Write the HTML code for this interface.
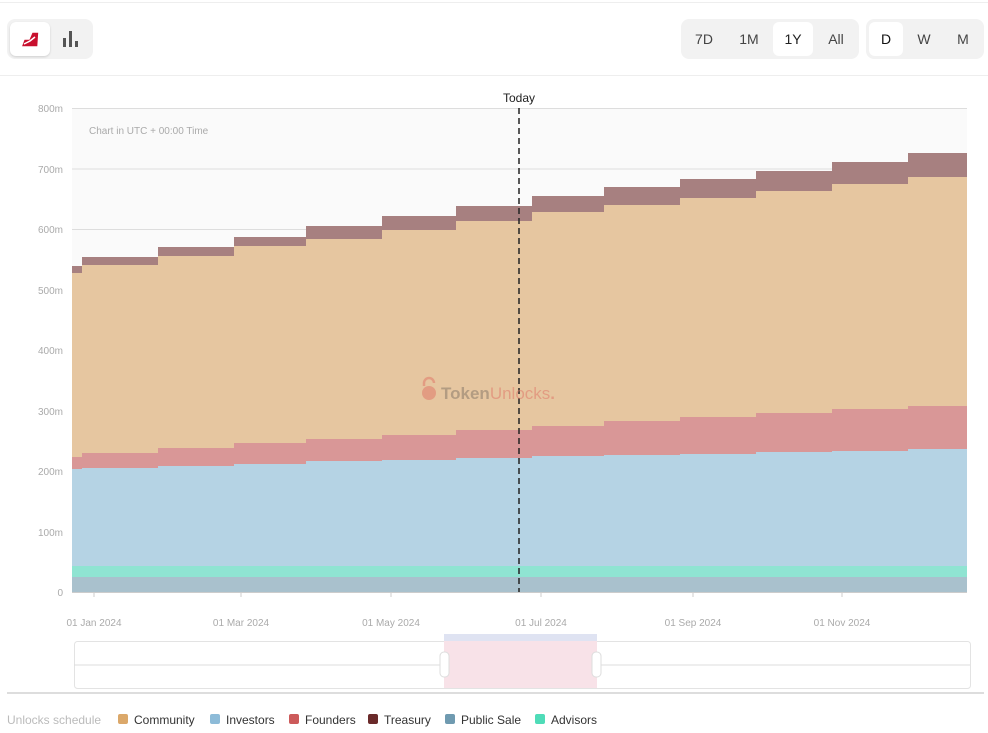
<!DOCTYPE html>
<html><head><meta charset="utf-8"><style>
body{margin:0;background:#fff;font-family:"Liberation Sans",sans-serif;}
.wrap{position:relative;width:988px;height:733px;overflow:hidden;}
.btn{position:absolute;font-size:14px;color:#444;text-align:center;line-height:36px;}
</style></head><body><div class="wrap">
<div style="position:absolute;left:0;top:2px;width:988px;height:1px;background:#eee"></div>
<div style="position:absolute;left:7px;top:19px;width:86px;height:40px;background:#f2f2f2;border-radius:8px"></div>
<div style="position:absolute;left:10px;top:22px;width:40px;height:34px;background:#fff;border-radius:6px;box-shadow:0 1px 2px rgba(0,0,0,.15)"></div>
<svg style="position:absolute;left:18px;top:29px" width="24" height="20"><path d="M3,18 L6,10 L11,10 L14,3 L21,3 L20,18 Z M6,15 L12,12 L17,8" fill="#c8102e" stroke="#fff" stroke-width="1.5"/></svg>
<svg style="position:absolute;left:62px;top:30px" width="18" height="18"><rect x="1" y="8" width="3" height="9" fill="#555"/><rect x="7" y="1" width="3" height="16" fill="#555"/><rect x="13" y="11" width="3" height="6" fill="#555"/></svg>
<div style="position:absolute;left:681px;top:19px;width:178px;height:40px;background:#f2f2f2;border-radius:8px"></div>
<div style="position:absolute;left:773px;top:22px;width:40px;height:34px;background:#fff;border-radius:6px"></div>
<div class="btn" style="left:684px;top:21px;width:40px">7D</div>
<div class="btn" style="left:729px;top:21px;width:40px">1M</div>
<div class="btn" style="left:773px;top:21px;width:40px;color:#222">1Y</div>
<div class="btn" style="left:816px;top:21px;width:40px">All</div>
<div style="position:absolute;left:866px;top:19px;width:118px;height:40px;background:#f2f2f2;border-radius:8px"></div>
<div style="position:absolute;left:869px;top:22px;width:34px;height:34px;background:#fff;border-radius:6px"></div>
<div class="btn" style="left:869px;top:21px;width:34px;color:#111">D</div>
<div class="btn" style="left:907px;top:21px;width:34px">W</div>
<div class="btn" style="left:946px;top:21px;width:34px">M</div>
<div style="position:absolute;left:0;top:75px;width:988px;height:1px;background:#eee"></div>
<svg style="position:absolute;left:0;top:0" width="988" height="733" font-family="Liberation Sans, sans-serif">
<rect x="72" y="108" width="895" height="484" fill="#fafafa"/>
<g stroke="#ddd" stroke-width="1">
<line x1="72" y1="108.5" x2="967" y2="108.5"/><line x1="72" y1="169" x2="967" y2="169"/><line x1="72" y1="229.5" x2="967" y2="229.5"/><line x1="72" y1="290" x2="967" y2="290"/><line x1="72" y1="350.5" x2="967" y2="350.5"/><line x1="72" y1="411" x2="967" y2="411"/><line x1="72" y1="471.5" x2="967" y2="471.5"/><line x1="72" y1="532" x2="967" y2="532"/></g>
<g font-size="10" fill="#aaa" text-anchor="end">
<text x="63" y="112">800m</text><text x="63" y="173">700m</text><text x="63" y="233">600m</text><text x="63" y="294">500m</text><text x="63" y="354">400m</text><text x="63" y="415">300m</text><text x="63" y="475">200m</text><text x="63" y="536">100m</text><text x="63" y="596">0</text></g>
<text x="89" y="134" font-size="10" fill="#aaa">Chart in UTC + 00:00 Time</text>
<path d="M72,592 V266 H82 V257 H158 V247 H234 V237 H306 V226 H382 V216 H456 V206 H532 V196 H604 V187 H680 V179 H756 V171 H832 V162 H908 V153 H967 V592 Z" fill="#a78080"/>
<path d="M72,592 V273 H82 V265 H158 V256 H234 V246 H306 V239 H382 V230 H456 V221 H532 V212 H604 V205 H680 V198 H756 V191 H832 V184 H908 V177 H967 V592 Z" fill="#e6c6a0"/>
<path d="M72,592 V457 H82 V453 H158 V448 H234 V443 H306 V439 H382 V435 H456 V430 H532 V426 H604 V421 H680 V417 H756 V413 H832 V409 H908 V406 H967 V592 Z" fill="#d99797"/>
<path d="M72,592 V469 H82 V468 H158 V466 H234 V464 H306 V461 H382 V460 H456 V458 H532 V456 H604 V455 H680 V454 H756 V452 H832 V451 H908 V449 H967 V592 Z" fill="#b5d3e4"/>
<rect x="72" y="566" width="895" height="11" fill="#8fe4d2"/>
<rect x="72" y="577" width="895" height="15" fill="#a9c1cd"/>
<line x1="72" y1="592.5" x2="967" y2="592.5" stroke="#ccc"/>
<g stroke="#ccc"><line x1="94" y1="592" x2="94" y2="597"/><line x1="241" y1="592" x2="241" y2="597"/><line x1="391" y1="592" x2="391" y2="597"/><line x1="541" y1="592" x2="541" y2="597"/><line x1="693" y1="592" x2="693" y2="597"/><line x1="842" y1="592" x2="842" y2="597"/></g>
<g font-size="10" fill="#aaa" text-anchor="middle">
<text x="94" y="626">01 Jan 2024</text><text x="241" y="626">01 Mar 2024</text><text x="391" y="626">01 May 2024</text><text x="541" y="626">01 Jul 2024</text><text x="693" y="626">01 Sep 2024</text><text x="842" y="626">01 Nov 2024</text></g>
<line x1="519" y1="108" x2="519" y2="592" stroke="#222" stroke-width="1.5" stroke-dasharray="6,4"/>
<text x="519" y="102" font-size="12" fill="#222" text-anchor="middle">Today</text>
<g opacity="0.55"><circle cx="429" cy="393" r="7" fill="#e07a6a"/><path d="M424,386 v-3 a5,5 0 0 1 10,0" stroke="#e07a6a" stroke-width="2.5" fill="none"/>
<text x="441" y="399" font-size="17" font-weight="bold" fill="#8a7a6a">Token<tspan fill="#e07a6a" font-weight="normal">Unlocks</tspan><tspan fill="#e07a6a">.</tspan></text></g>
<rect x="444" y="634" width="153" height="7" fill="#dfe3f2"/>
<rect x="74.5" y="641.5" width="896" height="47" rx="3" fill="none" stroke="#e3e3e3"/>
<line x1="74" y1="665" x2="970" y2="665" stroke="#ddd"/>
<rect x="444" y="641" width="153" height="47" fill="#f8e2e8"/>
<rect x="440" y="652" width="9" height="25" rx="4" fill="#fff" stroke="#ddd"/>
<rect x="592" y="652" width="9" height="25" rx="4" fill="#fff" stroke="#ddd"/>
<line x1="7" y1="693" x2="984" y2="693" stroke="#ddd" stroke-width="2"/>
<g font-size="12">
<text x="7" y="724" fill="#bbb">Unlocks schedule</text>
<rect x="118" y="714" width="10" height="10" rx="2" fill="#dba86a"/><text x="134" y="724" fill="#333">Community</text>
<rect x="210" y="714" width="10" height="10" rx="2" fill="#8dbbd8"/><text x="226" y="724" fill="#333">Investors</text>
<rect x="289" y="714" width="10" height="10" rx="2" fill="#cc5a5a"/><text x="305" y="724" fill="#333">Founders</text>
<rect x="368" y="714" width="10" height="10" rx="2" fill="#6a2a2a"/><text x="384" y="724" fill="#333">Treasury</text>
<rect x="445" y="714" width="10" height="10" rx="2" fill="#6f9ab0"/><text x="461" y="724" fill="#333">Public Sale</text>
<rect x="535" y="714" width="10" height="10" rx="2" fill="#4fdcb8"/><text x="551" y="724" fill="#333">Advisors</text>
</g>
</svg>
</div></body></html>
